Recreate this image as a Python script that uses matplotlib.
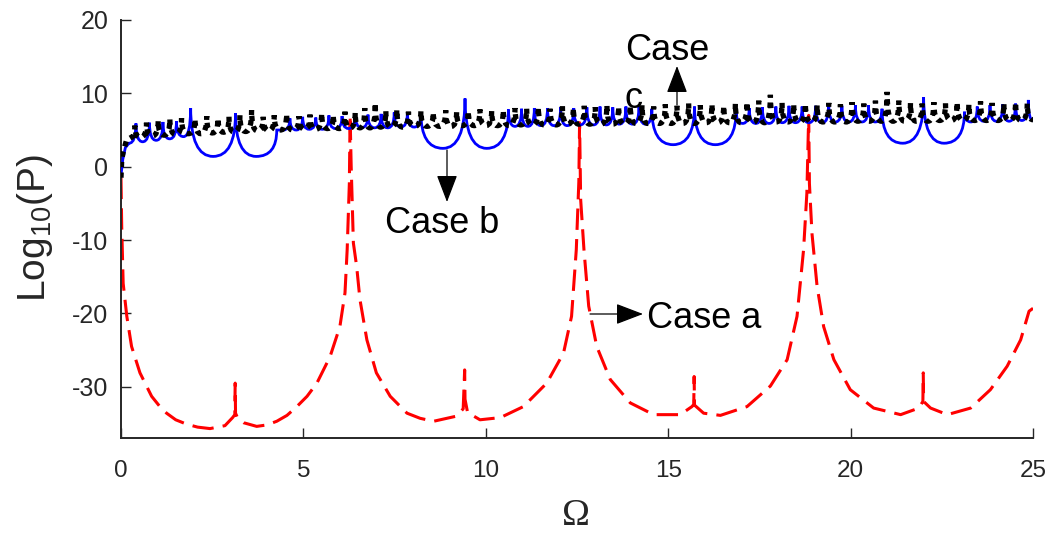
import matplotlib
matplotlib.use('Agg')
from matplotlib import pyplot as plt
from matplotlib.path import Path
from matplotlib.patches import PathPatch, FancyArrowPatch

# ---- case a (red dashed) ----
omega_a = [0.00, 0.02, 0.06, 0.16, 0.29, 0.52, 0.84, 1.05, 1.25, 1.50, 1.80,
           2.10, 2.44, 2.85,
           3.06, 3.12, 3.13, 3.14, 3.20, 3.36, 3.72, 4.00, 4.27, 4.55, 4.82,
           5.10, 5.37, 5.73,
           6.00, 6.14, 6.20, 6.26, 6.28, 6.31, 6.37, 6.46, 6.55, 6.74, 7.00,
           7.38, 7.84, 8.20, 8.57, 9.20, 9.38, 9.42, 9.43, 9.50, 9.84, 10.40,
           11.03, 11.67, 12.13, 12.35, 12.48, 12.55, 12.57, 12.60, 12.69,
           12.82, 13.04, 13.41, 13.96, 14.60, 15.33, 15.65, 15.70, 15.71,
           15.72, 15.97, 16.43, 17.16, 17.80, 18.26, 18.53, 18.71, 18.80,
           18.85, 18.87, 18.94, 19.08, 19.26, 19.54, 19.99, 20.63, 21.37,
           21.87, 21.98, 21.99, 22.00, 22.19, 22.65, 23.29, 23.83, 24.29,
           24.66, 24.89, 25.00]
logp_a = [-1.5, -8.2, -15.9, -20.4, -24.5, -28.1, -31.3, -32.6, -33.6, -34.5,
          -35.1, -35.5, -35.7, -35.3,
          -34.2, -33.8, -29.5, -33.6, -34.3, -34.9, -35.4, -35.2, -34.7, -33.9,
          -32.7, -31.3, -29.5, -25.9,
          -21.8, -17.2, -11.3, -2.2, 7.0, 0.0, -10.4, -13.6, -18.1, -23.6,
          -28.1, -31.3, -33.6, -34.3, -34.7, -34.0, -33.0, -27.7, -31.7,
          -33.5, -34.5, -34.2,
          -32.7, -29.5, -25.4, -20.4, -11.3, -2.0, 6.0, -4.5, -11.3,
          -19.0, -24.5, -29.0, -32.2, -33.8, -33.8, -32.7, -32.4, -28.6,
          -32.5, -33.6, -33.9, -32.7, -29.9, -26.3, -20.4, -11.3, -3.6,
          7.0, -2.3, -9.1, -16.3, -21.8, -26.3, -30.4, -32.9, -33.8,
          -32.9, -32.0, -28.1, -32.0, -32.9, -33.8, -32.9, -30.4, -27.2,
          -23.6, -19.7, -19.3]

# ---- case b (blue solid): rise, then chain of cusped arches ----
omega_b_start = [0.00, 0.05, 0.12, 0.22]
logp_b_start = [-1.2, 1.0, 2.6, 3.2]
cusp_b = [0.41, 0.78, 1.15, 1.52, 1.91,
          3.14,
          4.27, 4.63, 4.98, 5.34, 5.70, 6.06, 6.42, 6.77, 7.13, 7.49, 7.85, 8.22,
          9.43,
          10.62, 10.98, 11.33, 11.69, 12.05, 12.41, 12.77, 13.13, 13.48, 13.84,
          14.20, 14.55,
          15.72,
          16.86, 17.22, 17.58, 17.95, 18.31, 18.67, 19.04, 19.40, 19.76, 20.13,
          20.49, 20.86,
          22.00,
          23.12, 23.47, 23.82, 24.17, 24.52, 24.87]
top_b = [5.9, 6.0, 6.1, 6.2, 8.0,
         7.3,
         5.0, 6.6, 6.8, 6.7, 7.0, 6.9, 7.3, 7.1, 7.2, 7.4, 7.3, 7.4,
         9.3,
         7.8, 7.9, 8.0, 8.0, 8.1, 8.0, 8.1, 8.2, 8.1, 8.2, 8.3, 7.9,
         8.2,
         7.7, 8.0, 8.1, 8.2, 8.3, 8.2, 8.3, 8.4, 8.3, 8.4, 8.4, 7.9,
         9.5,
         7.5, 8.2, 8.4, 8.5, 8.6, 9.1]
bottom_b = [3.4, 3.6, 3.8, 4.1,
            1.4, 1.4,
            5.0, 5.0, 5.1, 5.1, 5.2, 5.2, 5.3, 5.3, 5.3, 5.4, 5.4,
            2.5, 2.5,
            5.5, 5.5, 5.6, 5.6, 5.6, 5.7, 5.7, 5.7, 5.8, 5.8, 5.8,
            3.0, 3.0,
            5.9, 5.9, 5.9, 6.0, 6.0, 6.0, 6.0, 6.1, 6.1, 6.1, 6.1,
            3.2, 3.2,
            6.1, 6.2, 6.2, 6.2, 6.3]
end_b = (25.0, 6.3)

# ---- case c (black dotted): rise, then chain of narrow cusped arches ----
omega_c_start = [0.00, 0.02, 0.06, 0.15, 0.28]
logp_c_start = [-1.5, 0.9, 2.0, 3.6, 4.0]
cusp_c = [0.38, 0.70, 1.02, 1.34, 1.66, 2.03, 2.35, 2.66, 2.96, 3.26,
          3.58, 3.90, 4.20, 4.54, 4.88, 5.18, 5.50, 5.82, 6.14, 6.42,
          6.68, 6.97, 7.26, 7.56, 7.88, 8.22, 8.56, 8.90, 9.20, 9.52,
          9.84, 10.16, 10.48, 10.80, 11.12, 11.44, 11.76, 12.10, 12.40, 12.70,
          13.00, 13.32, 13.64, 13.96, 14.28, 14.60, 14.92, 15.24, 15.56, 15.88,
          16.20, 16.52, 16.84, 17.16, 17.48, 17.80, 18.12, 18.44, 18.76, 19.08,
          19.40, 19.72, 20.04, 20.36, 20.68, 21.00, 21.32, 21.64, 21.96, 22.28,
          22.60, 22.92, 23.24, 23.56, 23.88, 24.20, 24.52, 24.84]
top_c = [5.6, 6.0, 6.3, 6.5, 6.6, 6.5, 6.9, 6.6, 6.8, 7.0,
         7.7, 6.8, 7.0, 7.2, 6.9, 7.1, 7.3, 7.0, 7.5, 7.4,
         8.0, 8.7, 7.6, 7.8, 7.5, 7.6, 7.4, 7.7, 7.5, 7.6,
         7.8, 7.6, 7.7, 8.0, 7.9, 8.1, 7.9, 8.2, 8.0, 8.3,
         8.1, 8.4, 8.2, 8.3, 8.4, 8.2, 8.5, 8.3, 8.6, 8.4,
         8.5, 8.3, 8.6, 8.8, 9.0, 9.8, 8.7, 8.5, 8.6, 8.4,
         8.7, 8.5, 8.8, 8.6, 9.0, 10.2, 9.0, 8.7, 8.6, 8.8,
         8.6, 8.8, 8.5, 8.9, 8.7, 8.6, 8.8, 8.6]
bottom_c = [4.0, 4.2, 4.3, 4.4, 4.5, 4.5, 4.6, 4.7, 4.7, 4.8,
            4.9, 4.9, 5.0, 5.0, 5.1, 5.1, 5.2, 5.2, 5.3, 5.3,
            5.3, 5.4, 5.4, 5.4, 5.5, 5.5, 5.5, 5.5, 5.6, 5.6,
            5.6, 5.6, 5.6, 5.7, 5.7, 5.7, 5.7, 5.8, 5.8, 5.8,
            5.8, 5.8, 5.8, 5.9, 5.9, 5.9, 5.9, 5.9, 5.9, 6.0,
            6.0, 6.0, 6.0, 6.0, 6.0, 6.1, 6.1, 6.1, 6.1, 6.1,
            6.1, 6.1, 6.2, 6.2, 6.2, 6.2, 6.2, 6.2, 6.2, 6.3,
            6.3, 6.3, 6.3, 6.3, 6.3, 6.3, 6.3]
end_c = (25.0, 6.4)

x_ticks = [0, 5, 10, 15, 20, 25]
y_ticks = [-30, -20, -10, 0, 10, 20]

plt.rcParams['font.family'] = ['Liberation Sans', 'DejaVu Sans']
plt.rcParams['axes.unicode_minus'] = False
plt.rcParams['mathtext.fontset'] = 'custom'
plt.rcParams['mathtext.rm'] = 'Liberation Sans'
plt.rcParams['mathtext.it'] = 'Liberation Sans:italic'
axis_color = '#262626'


def arch_chain(xs, ys, cusps, tops, bottoms, end):
    # polyline rise, then cusp-to-cusp U arches (quadratic curves)
    verts = [(xs[0], ys[0])]
    codes = [Path.MOVETO]
    for x, y in zip(xs[1:], ys[1:]):
        verts.append((x, y))
        codes.append(Path.LINETO)
    verts += [(cusps[0], ys[-1]), (cusps[0], tops[0])]
    codes += [Path.CURVE3, Path.CURVE3]
    for i, b in enumerate(bottoms):
        c0, c1 = cusps[i], cusps[i + 1]
        mid = 0.5 * (c0 + c1)
        verts += [(c0, b), (mid, b), (c1, b), (c1, tops[i + 1])]
        codes += [Path.CURVE3] * 4
    verts += [(cusps[-1], end[1]), end]
    codes += [Path.CURVE3, Path.CURVE3]
    return Path(verts, codes)


fig = plt.figure(figsize=(10.52, 5.33), dpi=100)
ax = fig.add_axes([0.115, 0.178, 0.867, 0.7845])

ax.plot(omega_a, logp_a, color='red', linewidth=2.2,
        linestyle=(0, (7, 3)), zorder=2)

ax.add_patch(PathPatch(
    arch_chain(omega_b_start, logp_b_start, cusp_b, top_b, bottom_b, end_b),
    facecolor='none', edgecolor='blue', linewidth=2.0, zorder=3))
ax.add_patch(PathPatch(
    arch_chain(omega_c_start, logp_c_start, cusp_c, top_c, bottom_c, end_c),
    facecolor='none', edgecolor='black', linewidth=3.8,
    linestyle=(0, (1, 1)), zorder=4))

ax.set_xlim(0, 25)
ax.set_ylim(-37, 20)
ax.set_xticks(x_ticks)
ax.set_yticks(y_ticks)
ax.spines['top'].set_visible(False)
ax.spines['right'].set_visible(False)
for side in ['left', 'bottom']:
    ax.spines[side].set_color(axis_color)
    ax.spines[side].set_linewidth(1.4)
ax.tick_params(direction='in', length=7, width=1.0, color=axis_color,
               labelcolor=axis_color)
ax.tick_params(axis='y', labelsize=18, pad=9)
ax.tick_params(axis='x', labelsize=17.5, pad=16)
for lab in ax.get_xticklabels():
    lab.set_family(['Liberation Sans Narrow', 'Liberation Sans'])

fig.text(0.548, 0.032, '\u03a9', ha='center', va='center', fontsize=27,
         family=['Liberation Serif', 'DejaVu Serif'], color=axis_color)
fig.text(0.033, 0.572, 'Log$_{10}$(P)', rotation=90, ha='center',
         va='center', fontsize=28, color=axis_color)

# annotations
fig.text(385 / 1052, 1 - 233 / 533, 'Case b', fontsize=26, ha='left',
         va='baseline')
fig.text(647 / 1052, 1 - 328 / 533, 'Case a', fontsize=26, ha='left',
         va='baseline')
fig.text(625 / 1052, 1 - 60 / 533, 'Case', fontsize=26, ha='left',
         va='baseline', zorder=1)
fig.text(625 / 1052, 1 - 108 / 533, 'c', fontsize=26, ha='left',
         va='baseline', zorder=1)

arrows = [((447, 150), (447, 202)),
          ((590, 314), (643, 314)),
          ((677, 105), (677, 66))]
for (x0, y0), (x1, y1) in arrows:
    fig.patches.append(FancyArrowPatch(
        (x0 / 1052, 1 - y0 / 533), (x1 / 1052, 1 - y1 / 533),
        transform=fig.transFigure, figure=fig,
        arrowstyle='-|>,head_length=17,head_width=6.5', mutation_scale=1,
        linewidth=0.9, color='black', shrinkA=0, shrinkB=0))

fig.savefig('out.png', dpi=100)
